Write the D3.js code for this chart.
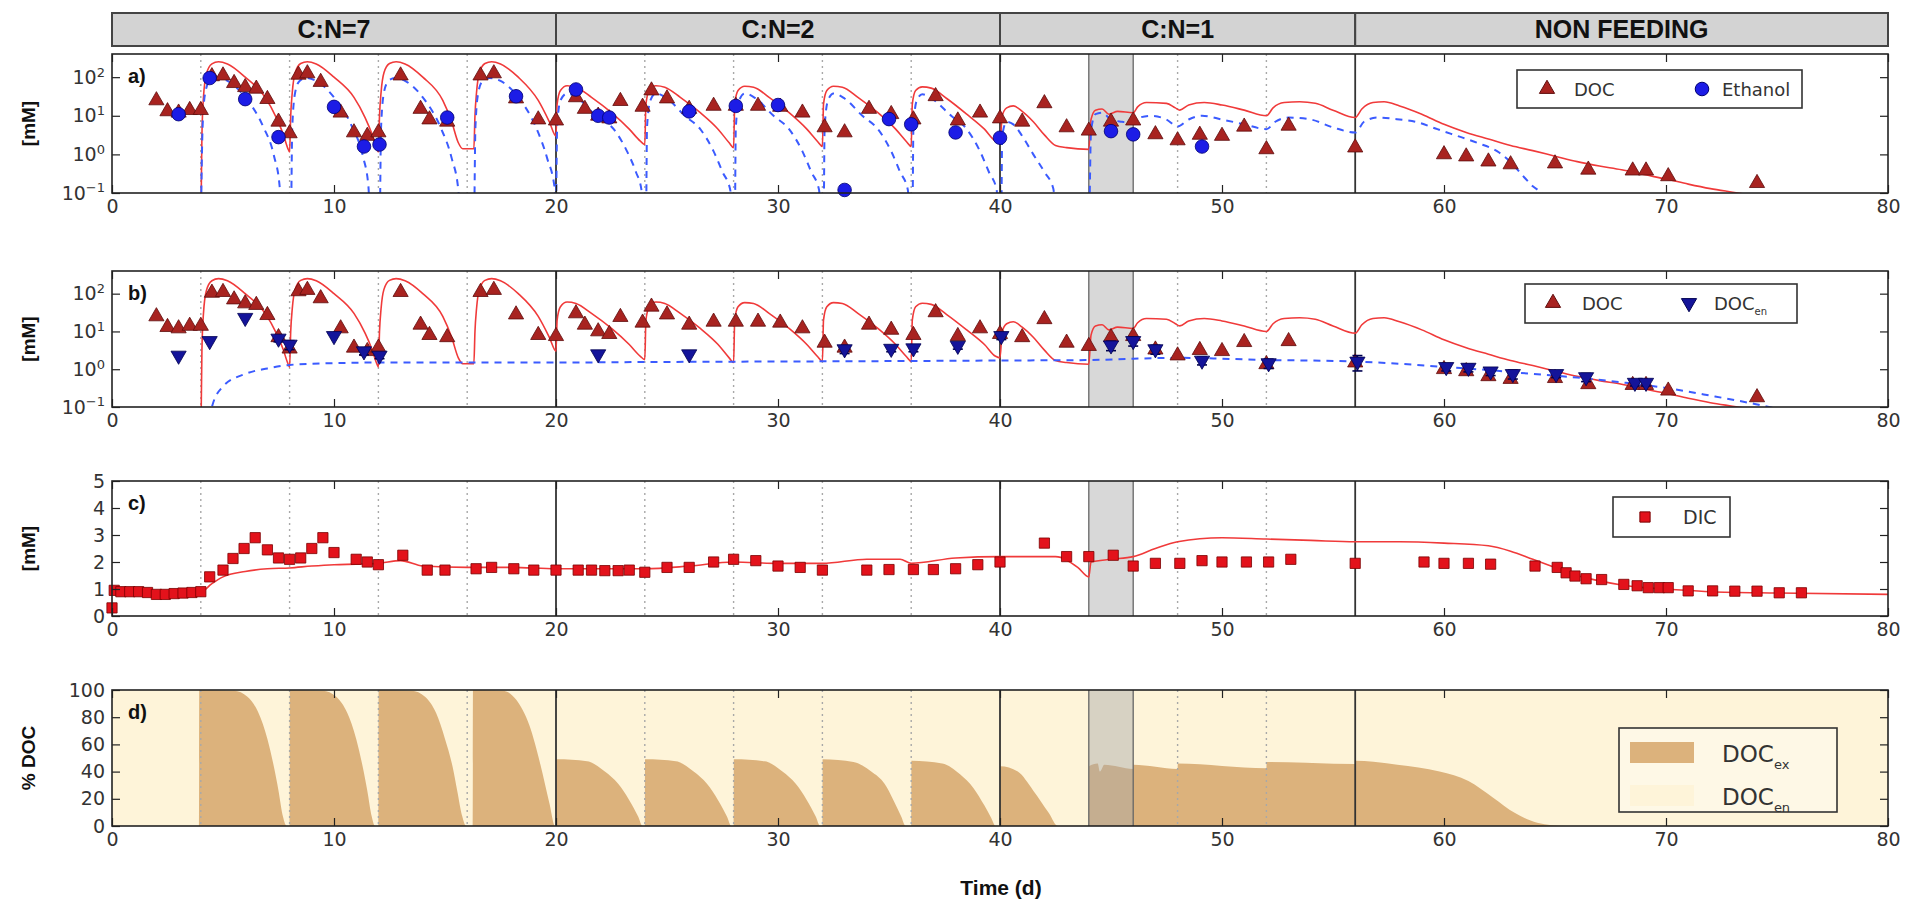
<!DOCTYPE html>
<html>
<head>
<meta charset="utf-8">
<script src="https://cdn.jsdelivr.net/npm/d3@7"></script>
<style>
  body { margin: 0; background: #fff; }
  svg text { font-family: "DejaVu Sans", sans-serif; }
  .tick text { font-size: 19px; fill: #333; }
  .tick line { stroke: #222; stroke-width: 1.2; }
  .bold { font-family: "Liberation Sans", Arial, sans-serif; font-weight: bold; fill: #111; }
</style>
</head>
<body>
<svg id="chart" width="1913" height="912"></svg>
<script>
// values (day, value)
var phaseNames = ["C:N=7", "C:N=2", "C:N=1", "NON FEEDING"];
var phaseStart = [0, 20, 40, 56];
var phaseEnd = [20, 40, 56, 80];
var feedDays = [4, 8, 12, 16, 24, 28, 32, 36, 48, 52];
var bandDays = [44, 46];

var xTicks = [0, 10, 20, 30, 40, 50, 60, 70, 80];
var logTicks = [0.1, 1, 10, 100];
var dicTicks = [0, 1, 2, 3, 4, 5];
var pctTicks = [0, 20, 40, 60, 80, 100];

// measured DOC (triangles, panels a and b)
var docObs = [[2,25],[2.5,13],[3,12],[3.5,14],[4,14],
  [4.5,105],[5,110],[5.5,70],[6,55],[6.5,50],[7,27],[7.5,7],[8,3.5],
  [8.4,115],[8.8,125],[9.4,75],[10.3,12],[10.9,3.7],[11.5,3],[12,3.7],
  [13,110],[13.9,15],[14.3,8],[15.1,7],
  [16.6,110],[17.2,125],[18.2,28],[19.2,8],[20,7.5],
  [20.9,30],[21.3,15],[21.9,10],[22.4,8.5],[22.9,24],[23.9,17],
  [24.3,45],[25,28],[26,15],[27.1,18],[28.1,18],[29.1,18],[30.1,17],[31.1,12],[32.1,5],[33,3.7],
  [34.1,15],[35.1,11],[36.1,8],[37.1,32],[38.1,7.5],[39.1,12],[40,8.5],
  [41,7],[42,21],[43,5],[44,4.1],[45,7],[46,7.5],[47,3.3],[48,2.3],[49,3.2],[50,3],[51,5.2],[52,1.35],[53,5.5],
  [56,1.5],[60,1.0],[61,0.88],[62,0.65],[63,0.55],[65,0.58],[66.5,0.4],[68.5,0.38],[69.1,0.38],[70.1,0.27],[74.1,0.18]];

// measured ethanol (circles, panel a)
var ethObs = [[3,11],[4.4,95],[6,27],[7.5,2.8],[10,17],[11.35,1.6],[12.05,1.8],[15.1,9],[18.2,32],
  [20.9,48],[21.9,10],[22.4,9],[26,13],[28.1,18],[30,19],[33,0.12],[35,8.2],[36,6],[38,3.7],[40,2.7],
  [45,4],[46,3.3],[49.1,1.6]];

// measured DOC_en (down triangles, panel b): day, value, error
var docEnObs = [[3,2.3,0],[4.4,5.6,0],[6,23,0],[7.5,6.5,1.2],[8,4.5,1.2],[10,7.6,0],[11.35,3,0.6],[12.05,2.3,0.4],
  [21.9,2.5,0],[26,2.5,0],[33,3.4,0.8],[35.1,3.5,0.6],[36.1,3.6,0.7],[38.1,4.2,0.8],[40.06,7.6,1.5],
  [45,4.3,1.2],[46,5.6,1.5],[47,3.4,0.9],[49.1,1.7,0.4],[52.1,1.45,0.4],[56.1,1.6,0.7],
  [60.1,1.15,0.25],[61.1,1.1,0.25],[62.1,0.88,0.2],[63.1,0.75,0.2],[65.05,0.75,0.15],[66.4,0.62,0.15],[68.6,0.44,0.08],[69.1,0.44,0.08]];

// measured DIC (squares, panel c)
var dicObs = [[0,0.3],[0.1,0.95],[0.4,0.9],[0.8,0.9],[1.2,0.9],[1.6,0.87],[2.0,0.8],[2.4,0.8],[2.8,0.83],[3.2,0.85],[3.6,0.87],[4.0,0.9],
  [4.4,1.45],[5.0,1.7],[5.45,2.13],[5.95,2.5],[6.45,2.9],[7.0,2.45],[7.5,2.15],[8.0,2.1],[8.5,2.15],[9.0,2.5],[9.5,2.9],[10.0,2.35],
  [11.0,2.1],[11.5,2.0],[12.0,1.9],[13.1,2.25],[14.2,1.7],[15.0,1.7],[16.4,1.75],[17.1,1.8],[18.1,1.75],[19.0,1.7],[20.0,1.7],
  [21.0,1.7],[21.6,1.7],[22.2,1.68],[22.8,1.68],[23.3,1.7],[24.0,1.62],[25.0,1.8],[26.0,1.8],[27.1,2.0],[28.0,2.1],[29.0,2.05],
  [30.0,1.85],[31.0,1.8],[32.0,1.7],[34.0,1.7],[35.0,1.72],[36.1,1.72],[37.0,1.72],[38.0,1.75],[39.0,1.9],[40.0,2.0],
  [42.0,2.7],[43.0,2.2],[44.0,2.2],[45.1,2.25],[46.0,1.85],[47.0,1.95],[48.1,1.95],[49.1,2.05],[50.0,2.0],[51.1,2.0],[52.1,2.0],[53.1,2.1],
  [56.0,1.95],[59.1,2.0],[60.0,1.95],[61.1,1.95],[62.1,1.92],[64.1,1.85],[65.1,1.8],[65.5,1.6],[65.9,1.48],[66.4,1.38],[67.1,1.35],
  [68.1,1.17],[68.7,1.12],[69.2,1.05],[69.7,1.05],[70.1,1.05],[71.0,0.93],[72.1,0.93],[73.1,0.92],[74.1,0.92],[75.1,0.86],[76.1,0.86]];

// model DOC (red line, panels a and b)
var docModel = [[4.0,0.01],[4.05,3],[4.12,30],[4.25,120],[4.5,220],[4.8,250],[5.2,220],[6.0,100],[6.9,30],[7.4,9],[7.7,3.5],[7.95,1.3],[8.0,1.15],
  [8.05,10],[8.12,40],[8.25,130],[8.5,225],[8.8,250],[9.2,220],[10.0,100],[10.9,30],[11.4,9],[11.7,3.5],[11.95,1.3],[12.0,1.15],
  [12.05,10],[12.12,40],[12.25,130],[12.5,225],[12.8,250],[13.2,220],[14.0,100],[14.9,25],[15.3,7],[15.6,2],[15.8,1.4],[16.3,1.4],
  [16.35,10],[16.42,40],[16.55,130],[16.8,225],[17.1,250],[17.5,220],[18.3,100],[19.2,25],[19.7,7],[20.0,3],
  [20.05,20],[20.2,45],[20.5,60],[20.9,55],[21.6,30],[22.5,12],[23.3,4.5],[23.8,2.2],[24.0,1.8],
  [24.05,20],[24.2,45],[24.5,60],[24.9,55],[25.6,30],[26.5,12],[27.3,4.5],[27.8,2.0],[28.0,1.5],
  [28.05,20],[28.2,45],[28.5,58],[28.9,55],[29.6,30],[30.5,12],[31.3,4.5],[31.8,2.1],[32.0,1.6],
  [32.05,20],[32.2,45],[32.5,58],[32.9,55],[33.6,30],[34.5,12],[35.3,4.5],[35.8,2.1],[36.0,1.6],
  [36.05,20],[36.2,45],[36.5,56],[36.9,52],[37.6,28],[38.5,11],[39.3,4.5],[39.8,2.2],[40.0,2.0],
  [40.1,10],[40.3,16],[40.6,18],[41.0,13],[41.5,7],[42.0,3.2],[42.5,1.7],[43.0,1.5],[44.0,1.35],
  [44.1,8],[44.3,14],[44.6,15],[44.9,11],[45.3,13],[46.0,12],[46.2,17],[46.6,22],[47.5,21],[47.9,16],[48.1,14],[48.5,19],
  [49.2,22],[50.0,19],[51.0,14],[52.0,10],[52.3,16],[52.8,22],[53.5,23],[54.2,21],[55.0,14],[56.0,9],[56.3,15],[56.8,22],[57.3,23],
  [58.0,18],[59.0,11],[60.0,6],[61.0,3.7],[62.0,2.5],[63.0,1.7],[64.0,1.25],[65.0,0.9],[66.0,0.65],[67.0,0.5],[68.0,0.4],
  [69.0,0.3],[70.0,0.23],[71.0,0.17],[72.0,0.13],[73.0,0.105],[74.0,0.085]];

// model ethanol (blue dashed, panel a)
var ethModel = [[4.0,0.01],[4.08,5],[4.2,40],[4.4,80],[4.7,95],[5.2,80],[6.0,30],[6.8,5.4],[7.3,0.9],[7.55,0.15],[7.65,0.01],
  [8.05,0.01],[8.12,5],[8.25,40],[8.45,80],[8.75,95],[9.2,80],[10.0,30],[10.8,5.4],[11.3,0.9],[11.55,0.15],[11.65,0.01],
  [12.05,0.01],[12.12,5],[12.25,40],[12.45,80],[12.75,95],[13.2,80],[14.0,30],[14.8,5],[15.3,0.8],[15.6,0.12],[15.7,0.01],
  [16.3,0.01],[16.37,5],[16.5,40],[16.7,80],[17.0,95],[17.5,80],[18.3,30],[19.1,5],[19.6,0.8],[19.95,0.12],[20.0,0.05],
  [20.05,5],[20.2,25],[20.5,38],[21.0,28],[21.8,10],[22.6,4.5],[23.2,1.2],[23.6,0.35],[23.85,0.12],[23.95,0.01],
  [24.05,0.01],[24.1,5],[24.25,25],[24.5,38],[25.0,28],[25.8,10],[26.5,4.5],[27.1,1.2],[27.5,0.35],[27.85,0.12],[27.95,0.01],
  [28.05,0.01],[28.1,5],[28.25,25],[28.5,38],[29.0,28],[29.8,10],[30.5,4.5],[31.1,1.2],[31.5,0.35],[31.85,0.12],[31.95,0.01],
  [32.05,0.01],[32.1,5],[32.25,25],[32.5,38],[33.0,28],[33.8,10],[34.5,4.5],[35.1,1.2],[35.5,0.35],[35.85,0.12],[35.95,0.01],
  [36.05,0.01],[36.1,5],[36.25,25],[36.5,36],[37.0,26],[37.8,10],[38.5,4.5],[39.1,1.2],[39.5,0.35],[39.85,0.12],[39.95,0.01],
  [40.05,0.01],[40.1,3],[40.3,7],[40.6,6],[41.0,3],[41.5,1],[42.0,0.35],[42.4,0.13],[42.6,0.01],
  [44.0,0.01],[44.1,4],[44.3,11],[44.6,12],[45.0,8],[45.5,7],[46.0,6.5],[46.3,9],[46.8,10],[47.5,8],[48.0,5.3],[48.5,8],[49.1,10],
  [50,8],[51,6],[52,4.5],[52.4,7],[53,9],[54,8],[55,5],[56,3.7],[56.4,7],[57,9],[58,8],[58.8,6.8],[59.7,4.5],[60.6,3],[61.5,2],
  [62.5,1.1],[63.1,0.55],[63.6,0.26],[64.0,0.15],[64.4,0.1],[64.8,0.05]];

// model DOC_en (blue dashed, panel b)
var docEnModel = [[4.25,0.01],[4.5,0.1],[5,0.35],[6,0.75],[7,1.05],[8,1.3],[10,1.45],[12,1.5],[16,1.5],[20,1.5],[24,1.55],
  [30,1.6],[36,1.65],[40,1.7],[44,1.75],[46,1.9],[48,2.0],[50,1.9],[52,1.75],[54,1.7],[56,1.6],[58,1.4],[60,1.15],[62,0.95],
  [64,0.75],[66,0.6],[68,0.45],[70,0.32],[72,0.2],[74,0.12],[75,0.09]];

// model DIC (red line, panel c)
var dicModel = [[0,0.9],[4,0.9],[4.5,1.2],[5,1.45],[6,1.65],[7,1.75],[8,1.78],[9,1.85],[10,1.9],[11,1.92],[12,1.95],[13,2.05],
  [14,1.85],[16,1.8],[18,1.8],[20,1.75],[22,1.75],[24,1.75],[26,1.85],[28,2.0],[30,1.95],[32,1.95],[34,2.1],[35.5,2.1],[36,1.95],
  [38,2.15],[40,2.2],[42.5,2.2],[43.5,1.8],[44,1.45],[44.1,2.0],[45,2.1],[46,2.2],[47,2.5],[48,2.75],[50,2.9],[52,2.85],[54,2.8],
  [56,2.75],[58,2.75],[60,2.7],[62,2.6],[63,2.4],[64,2.1],[65,1.8],[66,1.5],[67,1.3],[68,1.15],[69,1.05],[70,1.0],[72,0.9],[75,0.85],[80,0.8]];

// share of exogenous DOC in % (panel d, rest is DOC_en)
var exShare = [[0,0],[3.92,0],[3.93,100],[5.5,99.5],[6.1,95],[6.6,83],[7.0,64],[7.3,43],[7.5,26],[7.7,7],[7.87,0],
  [8.0,0],[8.01,100],[9.5,99.5],[10.1,95],[10.6,83],[11.0,64],[11.3,43],[11.5,26],[11.7,7],[11.85,0],
  [12.0,0],[12.01,100],[13.5,99.5],[14.1,95],[14.6,83],[15.0,64],[15.35,43],[15.55,26],[15.78,7],[15.95,0],
  [16.25,0],[16.26,100],[17.6,99.5],[18.2,93],[18.8,74],[19.3,45],[19.7,17],[19.97,0],
  [20.0,0],[20.01,49],[21.4,47.6],[22.2,40],[22.8,31],[23.3,19],[23.7,7],[23.9,0],
  [24.0,0],[24.01,49],[25.4,47.6],[26.2,40],[26.8,31],[27.3,19],[27.7,7],[27.9,0],
  [28.0,0],[28.01,49],[29.4,47.6],[30.2,40],[30.8,31],[31.3,19],[31.7,7],[31.9,0],
  [32.0,0],[32.01,49],[33.4,47],[34.2,40],[34.8,31],[35.2,19],[35.55,7],[35.75,0],
  [36.0,0],[36.01,48],[37.4,46],[38.2,38],[38.8,28],[39.3,15],[39.6,6],[39.8,0],
  [40.0,0],[40.01,44],[40.8,40],[41.5,26],[42.2,9.5],[42.6,0],
  [44.0,0],[44.01,44],[44.4,46],[44.5,40],[44.7,45],[46.0,42],[46.01,45],[48.0,42],[48.01,46],[52.0,42.5],[52.01,47],
  [56.0,45.5],[56.01,48],[57.9,45],[59.8,40],[61.1,33],[62.2,21],[63.2,9.5],[64.2,2.4],[65.5,0],[80,0]];

// ---- styles ----
var docColor = "#a82320", docEdge = "#5e0d0d";
var ethColor = "#1c1ce6", ethEdge = "#000070";
var enColor = "#14149a", enEdge = "#000050";
var dicColor = "#e3121b", dicEdge = "#7a0000";
var lineRed = "#f03a3a", lineBlue = "#3b5bff";
var exFill = "#dcb27c", enFill = "#fef4d9";

var left = 112, right = 1888;
var svg = d3.select("#chart");
var x = d3.scaleLinear().domain([0, 80]).range([left, right]);

var pa = {name: "a", top: 54, bottom: 193};
var pb = {name: "b", top: 271, bottom: 407};
var pc = {name: "c", top: 481, bottom: 616};
var pd = {name: "d", top: 690, bottom: 826};

var ya = d3.scaleLog().domain([0.1, Math.pow(10, 2.6)]).range([pa.bottom, pa.top]);
var yb = d3.scaleLog().domain([0.1, Math.pow(10, 2.6)]).range([pb.bottom, pb.top]);
var yc = d3.scaleLinear().domain([0, 5]).range([pc.bottom, pc.top]);
var yd = d3.scaleLinear().domain([0, 100]).range([pd.bottom, pd.top]);

// header boxes
var header = svg.append("g");
phaseNames.forEach(function(name, i) {
  header.append("rect")
    .attr("x", x(phaseStart[i])).attr("y", 13)
    .attr("width", x(phaseEnd[i]) - x(phaseStart[i])).attr("height", 33)
    .attr("fill", "#d3d3d3").attr("stroke", "#444").attr("stroke-width", 2);
  header.append("text").attr("class", "bold")
    .attr("x", (x(phaseStart[i]) + x(phaseEnd[i])) / 2).attr("y", 38)
    .attr("text-anchor", "middle").style("font-size", "25px")
    .text(name);
});

function setupPanel(p) {
  var g = svg.append("g");
  svg.append("clipPath").attr("id", "clip-" + p.name)
    .append("rect").attr("x", left).attr("y", p.top).attr("width", right - left).attr("height", p.bottom - p.top);
  p.g = g;
  p.under = g.append("g").attr("clip-path", "url(#clip-" + p.name + ")");
  p.plot = g.append("g").attr("clip-path", "url(#clip-" + p.name + ")");
  return p;
}

function guides(p) {
  var u = p.under;
  u.append("rect")
    .attr("x", x(bandDays[0])).attr("y", p.top)
    .attr("width", x(bandDays[1]) - x(bandDays[0])).attr("height", p.bottom - p.top)
    .attr("fill", "#a8a8a8").attr("opacity", 0.45);
  u.selectAll(".band-edge").data(bandDays).join("line")
    .attr("x1", d => x(d)).attr("x2", d => x(d)).attr("y1", p.top).attr("y2", p.bottom)
    .attr("stroke", "#666").attr("stroke-width", 1.3);
  u.selectAll(".feed").data(feedDays).join("line")
    .attr("x1", d => x(d)).attr("x2", d => x(d)).attr("y1", p.top).attr("y2", p.bottom)
    .attr("stroke", "#a8a8a8").attr("stroke-width", 1.4).attr("stroke-dasharray", "2,4");
  u.selectAll(".phase").data(phaseStart.slice(1)).join("line")
    .attr("x1", d => x(d)).attr("x2", d => x(d)).attr("y1", p.top).attr("y2", p.bottom)
    .attr("stroke", "#333").attr("stroke-width", 1.8);
}

function axes(p, y, ticks, logLabels) {
  var g = p.g;
  g.append("g").attr("transform", "translate(0," + p.bottom + ")")
    .call(d3.axisBottom(x).tickValues(xTicks).tickSize(-8).tickPadding(7).tickFormat(d3.format("d")));
  g.append("g").attr("transform", "translate(0," + p.top + ")")
    .call(d3.axisTop(x).tickValues(xTicks).tickSize(-8).tickFormat(""));
  var ly = g.append("g").attr("transform", "translate(" + left + ",0)")
    .call(d3.axisLeft(y).tickValues(ticks).tickSize(-8).tickPadding(7).tickFormat(d3.format("d")));
  g.append("g").attr("transform", "translate(" + right + ",0)")
    .call(d3.axisRight(y).tickValues(ticks).tickSize(-8).tickFormat(""));
  g.selectAll(".domain").remove();
  if (logLabels) {
    ly.selectAll(".tick text").text(null).each(function(d) {
      var t = d3.select(this);
      t.append("tspan").text("10");
      t.append("tspan").attr("dy", "-0.55em").style("font-size", "13px")
        .text(String(Math.round(Math.log10(d))).replace("-", "\u2212"));
    });
  }
  g.append("rect").attr("x", left).attr("y", p.top)
    .attr("width", right - left).attr("height", p.bottom - p.top)
    .attr("fill", "none").attr("stroke", "#222").attr("stroke-width", 1.6);
  g.append("text").attr("class", "bold").attr("x", 128).attr("y", p.top + 29)
    .style("font-size", "20px").text(p.name + ")");
}

function yLabel(p, label) {
  var cy = (p.top + p.bottom) / 2;
  p.g.append("text").attr("class", "bold")
    .attr("transform", "translate(35," + cy + ") rotate(-90)")
    .attr("text-anchor", "middle").style("font-size", "19px").text(label);
}

function drawLine(p, y, data, color, dashed) {
  var line = d3.line().x(d => x(d[0])).y(d => y(d[1])).curve(d3.curveMonotoneX);
  p.plot.append("path").datum(data).attr("d", line)
    .attr("fill", "none").attr("stroke", color)
    .attr("stroke-width", dashed ? 2 : 1.6)
    .attr("stroke-dasharray", dashed ? "7,6" : null);
}

var triUp = d3.symbol().type(d3.symbolTriangle).size(100);
var circ = d3.symbol().type(d3.symbolCircle).size(145);
var sq = d3.symbol().type(d3.symbolSquare).size(105);

function drawMarks(p, y, data, sym, fill, edge, flip) {
  p.g.append("g").selectAll("path").data(data).join("path")
    .attr("d", sym)
    .attr("transform", d => "translate(" + x(d[0]) + "," + y(d[1]) + ")" + (flip ? " rotate(180)" : ""))
    .attr("fill", fill).attr("stroke", edge).attr("stroke-width", 0.8);
}

function legendFrame(p, x0, y0, w, h, fill) {
  p.g.append("rect").attr("x", x0).attr("y", y0).attr("width", w).attr("height", h)
    .attr("fill", fill || "#fff").attr("stroke", "#333").attr("stroke-width", 1.6);
}

function legendText(p, x0, y0, main, sub, size) {
  var t = p.g.append("text").attr("x", x0).attr("y", y0).style("font-size", size + "px").attr("fill", "#333");
  t.append("tspan").text(main);
  if (sub) t.append("tspan").attr("dy", size * 0.3).style("font-size", Math.round(size * 0.55) + "px").text(sub);
}

// ---- panel a ----
setupPanel(pa);
guides(pa);
drawLine(pa, ya, docModel, lineRed, false);
drawLine(pa, ya, ethModel, lineBlue, true);
drawMarks(pa, ya, docObs, triUp, docColor, docEdge, false);
drawMarks(pa, ya, ethObs, circ, ethColor, ethEdge, false);
axes(pa, ya, logTicks, true);
yLabel(pa, "[mM]");
legendFrame(pa, 1517, 70, 285, 38);
pa.g.append("path").attr("d", triUp).attr("transform", "translate(1547,89)").attr("fill", docColor).attr("stroke", docEdge);
legendText(pa, 1574, 96, "DOC", null, 18);
pa.g.append("path").attr("d", circ).attr("transform", "translate(1702,89)").attr("fill", ethColor).attr("stroke", ethEdge);
legendText(pa, 1722, 96, "Ethanol", null, 18);

// ---- panel b ----
setupPanel(pb);
guides(pb);
drawLine(pb, yb, docModel, lineRed, false);
drawLine(pb, yb, docEnModel, lineBlue, true);
drawMarks(pb, yb, docObs, triUp, docColor, docEdge, false);
var eb = pb.g.append("g").attr("stroke", enEdge).attr("stroke-width", 1.6);
docEnObs.filter(d => d[2] > 0).forEach(function(d) {
  var y1 = yb(d[1] - d[2]), y2 = yb(d[1] + d[2]), cx = x(d[0]);
  eb.append("line").attr("x1", cx).attr("x2", cx).attr("y1", y1).attr("y2", y2);
  eb.append("line").attr("x1", cx - 5).attr("x2", cx + 5).attr("y1", y1).attr("y2", y1);
  eb.append("line").attr("x1", cx - 5).attr("x2", cx + 5).attr("y1", y2).attr("y2", y2);
});
drawMarks(pb, yb, docEnObs, triUp, enColor, enEdge, true);
axes(pb, yb, logTicks, true);
yLabel(pb, "[mM]");
legendFrame(pb, 1525, 284, 272, 39);
pb.g.append("path").attr("d", triUp).attr("transform", "translate(1553,303)").attr("fill", docColor).attr("stroke", docEdge);
legendText(pb, 1582, 310, "DOC", null, 18);
pb.g.append("path").attr("d", triUp).attr("transform", "translate(1689,303) rotate(180)").attr("fill", enColor).attr("stroke", enEdge);
legendText(pb, 1714, 310, "DOC", "en", 18);

// ---- panel c ----
setupPanel(pc);
guides(pc);
drawLine(pc, yc, dicModel, lineRed, false);
drawMarks(pc, yc, dicObs, sq, dicColor, dicEdge, false);
axes(pc, yc, dicTicks, false);
yLabel(pc, "[mM]");
legendFrame(pc, 1613, 497, 117, 40);
pc.g.append("path").attr("d", sq).attr("transform", "translate(1645,517)").attr("fill", dicColor).attr("stroke", dicEdge);
legendText(pc, 1683, 524, "DIC", null, 19);

// ---- panel d ----
setupPanel(pd);
pd.under.append("rect").attr("x", left).attr("y", pd.top).attr("width", right - left).attr("height", pd.bottom - pd.top).attr("fill", enFill);
var area = d3.area().x(d => x(d[0])).y0(yd(0)).y1(d => yd(d[1])).curve(d3.curveMonotoneX);
pd.under.append("path").datum(exShare).attr("d", area).attr("fill", exFill);
guides(pd);
axes(pd, yd, pctTicks, false);
yLabel(pd, "% DOC");
legendFrame(pd, 1619, 728, 218, 84, "#fef8e6");
pd.g.append("rect").attr("x", 1630).attr("y", 742).attr("width", 64).attr("height", 21).attr("fill", exFill);
pd.g.append("rect").attr("x", 1630).attr("y", 785).attr("width", 64).attr("height", 21).attr("fill", enFill);
legendText(pd, 1722, 762, "DOC", "ex", 23);
legendText(pd, 1722, 805, "DOC", "en", 23);

svg.append("text").attr("class", "bold").attr("x", (left + right) / 2 + 1).attr("y", 895)
  .attr("text-anchor", "middle").style("font-size", "21px").text("Time (d)");
</script>
</body>
</html>
